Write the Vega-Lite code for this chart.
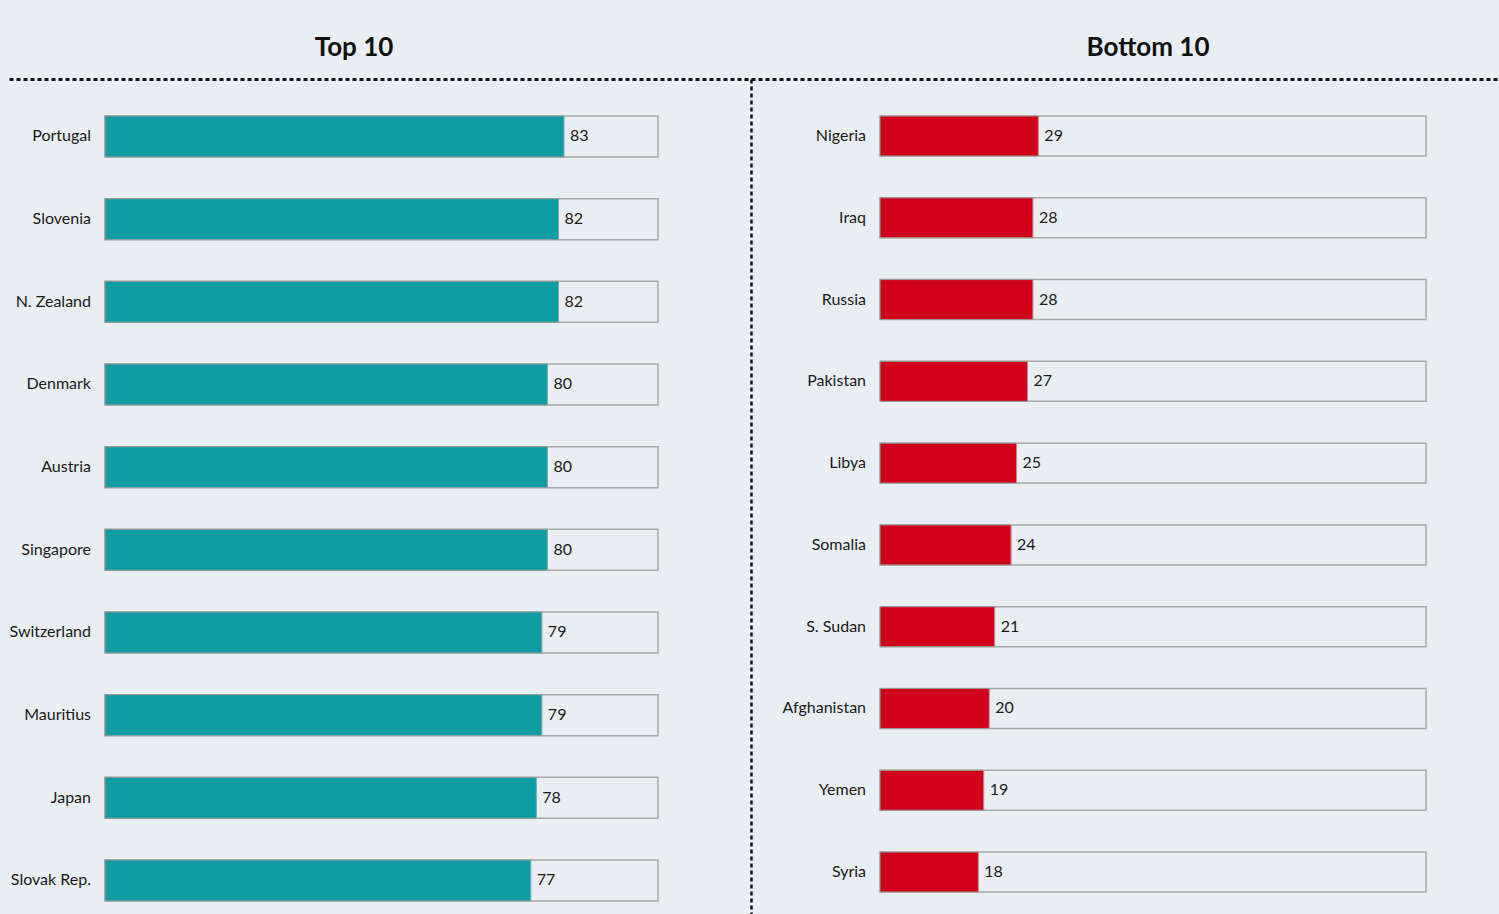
{
  "$schema": "https://vega.github.io/schema/vega-lite/v6.json",
  "background": "#E9EEF2",
  "padding": {"left": 9, "top": 35, "right": 2, "bottom": 0},
  "bounds": "flush",
  "spacing": 0,
  "config": {
    "view": {"stroke": null},
    "font": "Lato",
    "text": {"font": "Lato", "fontSize": 16, "color": "#1a1a1a"},
    "title": {"font": "Lato", "fontSize": 26, "fontWeight": "bold", "color": "#111111", "anchor": "middle", "offset": 18}
  },
  "datasets": {
    "top": [
      {"country": "Portugal", "value": 83},
      {"country": "Slovenia", "value": 82},
      {"country": "N. Zealand", "value": 82},
      {"country": "Denmark", "value": 80},
      {"country": "Austria", "value": 80},
      {"country": "Singapore", "value": 80},
      {"country": "Switzerland", "value": 79},
      {"country": "Mauritius", "value": 79},
      {"country": "Japan", "value": 78},
      {"country": "Slovak Rep.", "value": 77}
    ],
    "bottom": [
      {"country": "Nigeria", "value": 29},
      {"country": "Iraq", "value": 28},
      {"country": "Russia", "value": 28},
      {"country": "Pakistan", "value": 27},
      {"country": "Libya", "value": 25},
      {"country": "Somalia", "value": 24},
      {"country": "S. Sudan", "value": 21},
      {"country": "Afghanistan", "value": 20},
      {"country": "Yemen", "value": 19},
      {"country": "Syria", "value": 18}
    ]
  },
  "hconcat": [
    {
      "width": 742,
      "height": 836,
      "title": {"text": "Top 10", "dx": -26},
      "data": {"name": "top"},
      "encoding": {
        "y": {"field": "country", "type": "nominal", "sort": null, "axis": null,
              "scale": {"paddingInner": 0.504, "paddingOuter": 0.3085, "align": 0.725}}
      },
      "layer": [
        {
          "mark": {"type": "bar", "fill": "#E9EEF2", "stroke": "#A8A8A8", "strokeWidth": 1.5},
          "encoding": {
            "x": {"datum": 0, "type": "quantitative",
                  "scale": {"domain": [-17.36, 116.82], "nice": false, "zero": false},
                  "axis": {"orient": "top", "labels": false, "ticks": false, "grid": false, "title": null,
                           "domainDash": [4, 3], "domainWidth": 3, "domainColor": "#111111"}},
            "x2": {"datum": 100}
          }
        },
        {
          "mark": {"type": "bar", "fill": "#109CA5", "stroke": "#9A9A9A", "strokeWidth": 1},
          "encoding": {
            "x": {"field": "value", "type": "quantitative"}
          }
        },
        {
          "mark": {"type": "text", "align": "left", "dx": 6},
          "encoding": {
            "x": {"field": "value", "type": "quantitative"},
            "text": {"field": "value", "type": "quantitative"}
          }
        },
        {
          "mark": {"type": "text", "align": "right", "dx": -14},
          "encoding": {
            "x": {"datum": 0, "type": "quantitative"},
            "text": {"field": "country", "type": "nominal"}
          }
        }
      ]
    },
    {
      "width": 746,
      "height": 836,
      "title": {"text": "Bottom 10", "dx": 24},
      "data": {"name": "bottom"},
      "encoding": {
        "y": {"field": "country", "type": "nominal", "sort": null,
              "axis": {"orient": "left", "labels": false, "ticks": false, "title": null, "grid": false,
                       "domainDash": [4, 3], "domainWidth": 2.5, "domainColor": "#111111"},
              "scale": {"paddingInner": 0.511, "paddingOuter": 0.3667, "align": 0.617}}
      },
      "layer": [
        {
          "mark": {"type": "bar", "fill": "#E9EEF2", "stroke": "#A8A8A8", "strokeWidth": 1.5},
          "encoding": {
            "x": {"datum": 0, "type": "quantitative",
                  "scale": {"domain": [-23.63, 113.0], "nice": false, "zero": false},
                  "axis": {"orient": "top", "labels": false, "ticks": false, "grid": false, "title": null,
                           "domainDash": [4, 3], "domainWidth": 3, "domainColor": "#111111"}},
            "x2": {"datum": 100}
          }
        },
        {
          "mark": {"type": "bar", "fill": "#D0021B", "stroke": "#9A9A9A", "strokeWidth": 1},
          "encoding": {
            "x": {"field": "value", "type": "quantitative"}
          }
        },
        {
          "mark": {"type": "text", "align": "left", "dx": 6},
          "encoding": {
            "x": {"field": "value", "type": "quantitative"},
            "text": {"field": "value", "type": "quantitative"}
          }
        },
        {
          "mark": {"type": "text", "align": "right", "dx": -14},
          "encoding": {
            "x": {"datum": 0, "type": "quantitative"},
            "text": {"field": "country", "type": "nominal"}
          }
        }
      ]
    }
  ]
}
